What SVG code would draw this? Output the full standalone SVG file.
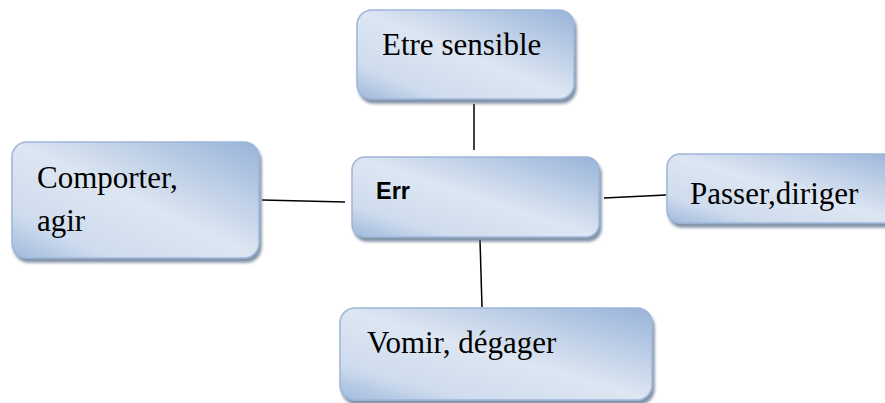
<svg xmlns="http://www.w3.org/2000/svg" width="885" height="403" viewBox="0 0 885 403">
<defs>
<linearGradient id="g" x1="1" y1="0" x2="0" y2="1">
<stop offset="0" stop-color="#98b3d9"/>
<stop offset="0.5" stop-color="#dde6f2"/>
<stop offset="0.8" stop-color="#cfdcee"/>
<stop offset="1" stop-color="#9fb9dc"/>
</linearGradient>
<filter id="sh" x="-10%" y="-10%" width="130%" height="140%">
<feDropShadow dx="2" dy="4" stdDeviation="1.5" flood-color="#5a6e8a" flood-opacity="0.75"/>
</filter>
<style>
.box{fill:url(#g);stroke:#9db6d9;stroke-width:1.5;filter:url(#sh)}
.t{font-family:"Liberation Serif","Times New Roman",serif;font-size:31px;fill:#000}
.b{font-family:"Liberation Sans",Arial,sans-serif;font-size:23.5px;font-weight:bold;fill:#000}
.c{stroke:#000;stroke-width:1.5;fill:none}
</style>
</defs>
<g id="connectors">
<line class="c" x1="474" y1="104" x2="474" y2="150"/>
<line class="c" x1="262" y1="200" x2="345" y2="202"/>
<line class="c" x1="604" y1="198" x2="666" y2="195"/>
<line class="c" x1="480" y1="240" x2="482" y2="307"/>
</g>
<g id="node-etre">
<rect class="box" x="357" y="10" width="217" height="89" rx="15"/>
<text class="t" x="382" y="55">Etre sensible</text>
</g>
<g id="node-comporter">
<rect class="box" x="12" y="142" width="247" height="116" rx="15"/>
<text class="t" x="37" y="188">Comporter,</text>
<text class="t" x="37" y="231">agir</text>
</g>
<g id="node-err">
<rect class="box" x="352" y="157" width="247" height="80" rx="13"/>
<text class="b" x="376" y="199">Err</text>
</g>
<g id="node-passer">
<rect class="box" x="667" y="154" width="240" height="69" rx="13"/>
<text class="t" x="690" y="204">Passer,diriger</text>
</g>
<g id="node-vomir">
<rect class="box" x="340" y="308" width="312" height="92" rx="15"/>
<text class="t" x="367" y="353">Vomir, dégager</text>
</g>
</svg>
